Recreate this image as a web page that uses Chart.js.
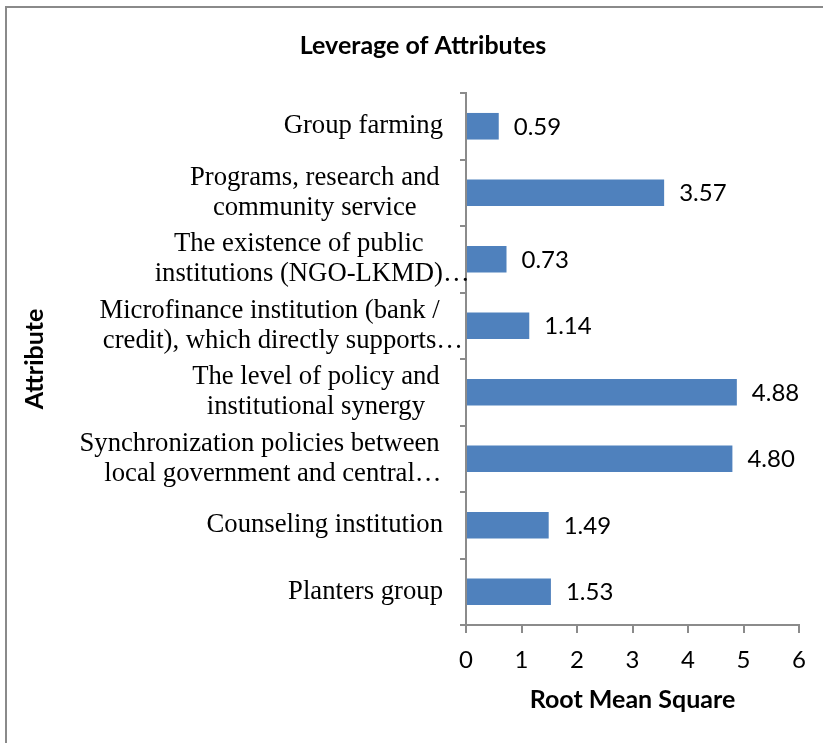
<!DOCTYPE html>
<html>
<head>
<meta charset="utf-8">
<title>Leverage of Attributes</title>
<script src="https://cdn.jsdelivr.net/npm/chart.js@4.4.1/dist/chart.umd.min.js"></script>
<style>
  html, body { margin: 0; padding: 0; background: #fff; }
  #wrap { position: relative; width: 823px; height: 743px; overflow: hidden; }
  #frame { position: absolute; left: 5px; top: 6px; width: 840px; height: 760px; border: 2px solid #8a8a8a; box-sizing: border-box; }
  #chart-box { position: absolute; left: 0; top: 0; width: 823px; height: 743px; }
</style>
</head>
<body>
<div id="wrap">
  <div id="frame"></div>
  <div id="chart-box"><canvas id="leverage-chart"></canvas></div>
</div>
<script>
  // categories, top to bottom, already wrapped the way the sheet shows them
  const attributes = [
    ['Group farming'],
    ['Programs, research and', 'community service'],
    ['The existence of public', 'institutions (NGO-LKMD)…'],
    ['Microfinance institution (bank /', 'credit), which directly supports…'],
    ['The level of policy and', 'institutional synergy'],
    ['Synchronization policies between', 'local government and central…'],
    ['Counseling institution'],
    ['Planters group']
  ];
  const rmsValues = [0.59, 3.57, 0.73, 1.14, 4.88, 4.80, 1.49, 1.53];
  const xTicks = [0, 1, 2, 3, 4, 5, 6];

  const axisGray = '#8b8b8b';
  const sansBold = { family: 'Lato', size: 25, weight: 'bold', lineHeight: 1.2 };

  // value at the end of each bar
  const valueLabels = {
    id: 'valueLabels',
    afterDatasetsDraw(chart) {
      const ctx = chart.ctx;
      const meta = chart.getDatasetMeta(0);
      ctx.save();
      ctx.font = '24px Lato';
      ctx.fillStyle = '#000';
      ctx.textAlign = 'left';
      ctx.textBaseline = 'middle';
      meta.data.forEach(function (bar, i) {
        ctx.fillText(rmsValues[i].toFixed(2), bar.x + 15, bar.y + 1);
      });
      ctx.restore();
    }
  };

  // category labels: lines centred on each other, block flush to the axis,
  // wrapped lines keep their trailing space, a trailing ellipsis hangs out
  const attributeLabels = {
    id: 'attributeLabels',
    afterDraw(chart) {
      const ctx = chart.ctx;
      const yScale = chart.scales.y;
      const right = chart.chartArea.left - 23;
      const lineH = 30;
      ctx.save();
      ctx.font = '26.7px "Liberation Serif", "Times New Roman", serif';
      ctx.fillStyle = '#000';
      ctx.textAlign = 'left';
      ctx.textBaseline = 'middle';
      attributes.forEach(function (lines, i) {
        const widths = lines.map(l => ctx.measureText(l.replace(/…$/, '')).width);
        const boxW = lines.map((l, j) => j < lines.length - 1 ? ctx.measureText(l + ' ').width : widths[j]);
        const mid = right - Math.max(...boxW) / 2;
        const cy = yScale.getPixelForValue(i);
        lines.forEach(function (line, j) {
          const y = cy + (j - (lines.length - 1) / 2) * lineH;
          ctx.fillText(line, mid - widths[j] / 2, y);
        });
      });
      ctx.restore();
    }
  };

  new Chart(document.getElementById('leverage-chart'), {
    type: 'bar',
    data: {
      labels: attributes.map(l => l.join(' ')),
      datasets: [{
        data: rmsValues,
        backgroundColor: '#4F81BD',
        borderWidth: 0,
        categoryPercentage: 0.4,
        barPercentage: 1
      }]
    },
    options: {
      indexAxis: 'y',
      responsive: true,
      maintainAspectRatio: false,
      animation: false,
      layout: { padding: { left: 47, right: 24, top: 0, bottom: 0 } },
      plugins: {
        legend: { display: false },
        tooltip: { enabled: false },
        title: {
          display: true,
          text: 'Leverage of Attributes',
          color: '#000',
          font: sansBold,
          padding: { top: 31, bottom: 32 }
        }
      },
      scales: {
        x: {
          min: xTicks[0],
          max: xTicks[xTicks.length - 1],
          afterBuildTicks: function (scale) {
            scale.ticks = xTicks.map(v => ({ value: v }));
          },
          grid: { drawOnChartArea: false, drawTicks: true, tickLength: 8, color: axisGray, lineWidth: 2 },
          border: { color: axisGray, width: 2 },
          ticks: { color: '#000', font: { family: 'Lato', size: 24 }, padding: 12.5 },
          title: {
            display: true,
            text: 'Root Mean Square',
            color: '#000',
            font: sansBold,
            padding: { top: 0, bottom: 28 }
          },
          afterFit: function (scale) { scale.height = 118; }
        },
        y: {
          grid: { drawOnChartArea: false, drawTicks: true, tickLength: 6, color: axisGray, lineWidth: 2, offset: true },
          border: { color: axisGray, width: 2 },
          ticks: { display: false },
          title: {
            display: true,
            text: 'Attribute',
            color: '#000',
            font: sansBold,
            padding: { top: -27, bottom: 0 }
          },
          afterFit: function (scale) { scale.width = 419; }
        }
      }
    },
    plugins: [valueLabels, attributeLabels]
  });
</script>
</body>
</html>
